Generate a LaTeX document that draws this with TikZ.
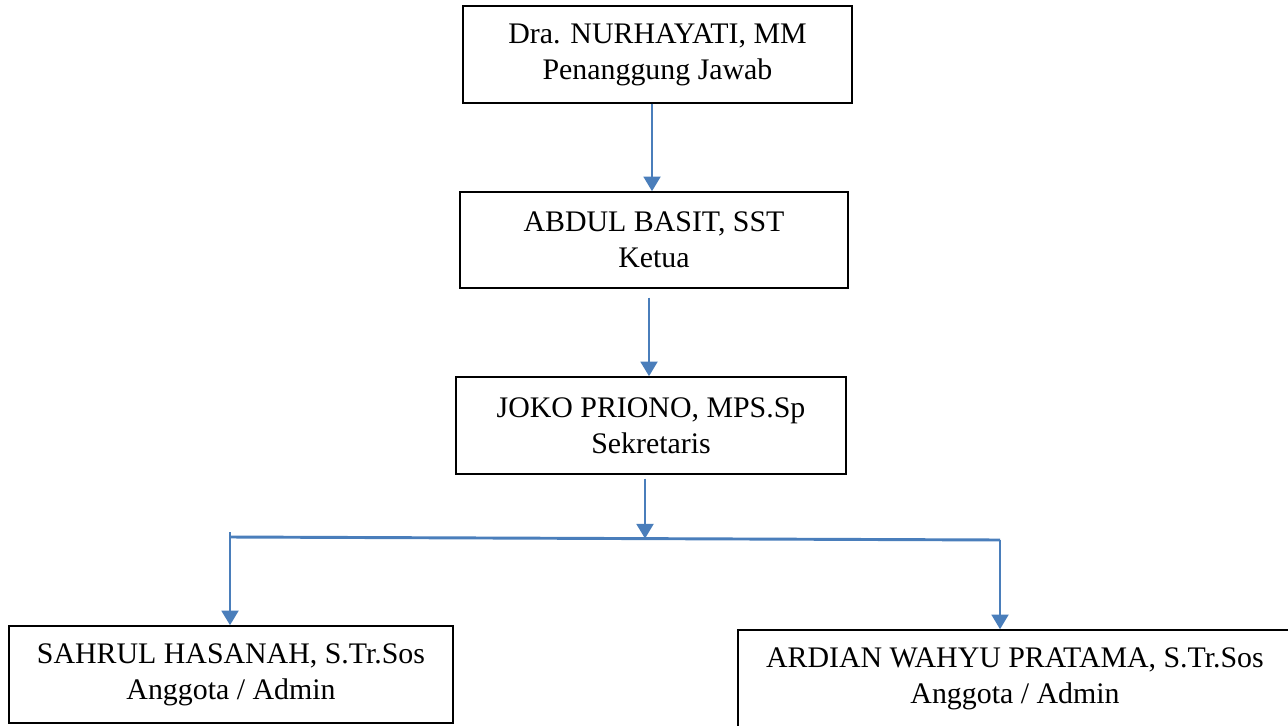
\documentclass[tikz,border=0pt]{standalone}
\usepackage{fontspec}
\setmainfont{Liberation Serif}
\usetikzlibrary{arrows.meta,calc}
\definecolor{connblue}{HTML}{4A7EBB}
\begin{document}
\begin{tikzpicture}[x=0.75pt,y=-0.75pt,
  box/.style={draw=black,line width=1.1pt,align=center,inner sep=0pt,
    font=\fontsize{22.4}{27}\selectfont},
  conn/.style={draw=connblue,line width=2.2pt},
  arr/.style={conn,-{Triangle[width=12.5pt,length=11pt]}}]
\useasboundingbox (0,0) rectangle (1288,725);
\node[box,minimum width=389*0.75pt,minimum height=97*0.75pt] (b1) at (657.5,54.5) {Dra. NURHAYATI, MM\\Penanggung Jawab};
\node[box,minimum width=388*0.75pt,minimum height=96*0.75pt] (b2) at (654,240) {ABDUL BASIT, SST\\Ketua};
\node[box,minimum width=390*0.75pt,minimum height=97*0.75pt] (b3) at (651,425.5) {JOKO PRIONO, MPS.Sp\\Sekretaris};
\node[box,minimum width=444*0.75pt,minimum height=97*0.75pt] (b4) at (231,674.5) {SAHRUL HASANAH, S.Tr.Sos\\Anggota / Admin};
\node[box,minimum width=554*0.75pt,minimum height=97*0.75pt] (b5) at (1015,678.5) {ARDIAN WAHYU PRATAMA, S.Tr.Sos\\Anggota / Admin};
\coordinate (x1) at (652,0);
\coordinate (x2) at (649,0);
\coordinate (x3) at (645,0);
\coordinate (L) at (230,537);
\coordinate (Ltop) at (230,532);
\coordinate (R) at (1000,540);
\coordinate (J) at (645,538.6);
\draw[arr] (b1.south -| x1) -- (b2.north -| x1);
\draw[arr] ($(b2.south -| x2)+(0,9)$) -- (b3.north -| x2);
\draw[arr] ($(b3.south -| x3)+(0,4)$) -- (J);
\draw[conn] (L) -- (R);
\draw[arr] (Ltop) -- (b4.north -| Ltop);
\draw[arr] (R) -- (b5.north -| R);
\end{tikzpicture}
\end{document}
